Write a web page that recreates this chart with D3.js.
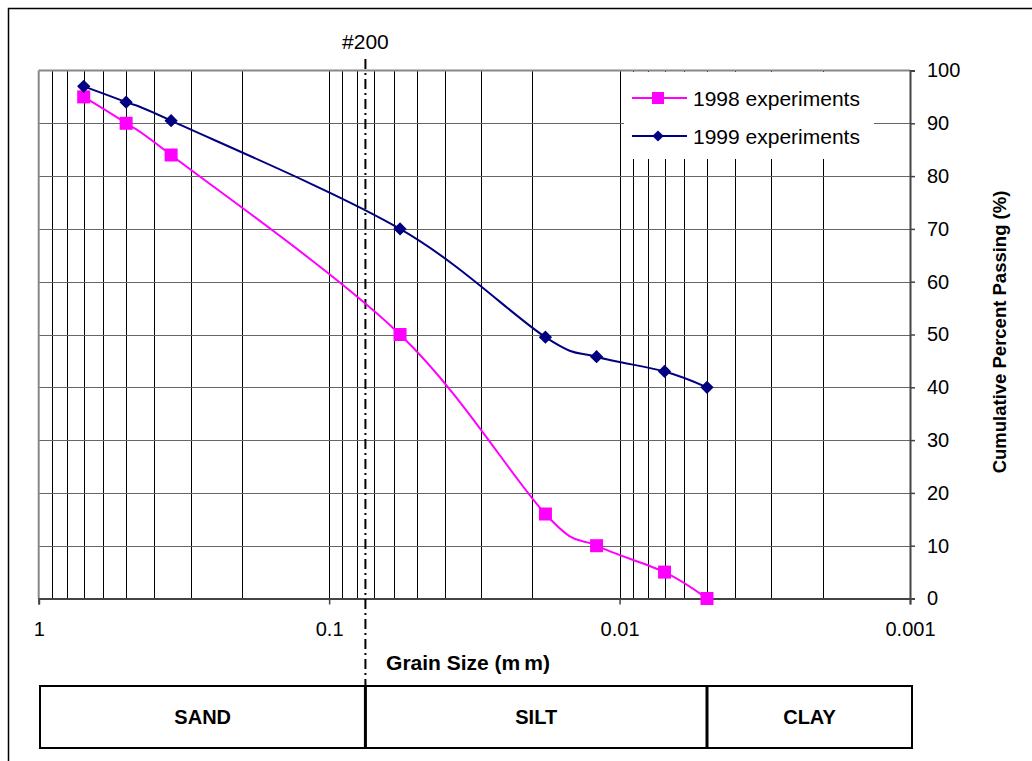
<!DOCTYPE html>
<html>
<head>
<meta charset="utf-8">
<script src="https://cdn.jsdelivr.net/npm/d3@7"></script>
<style>
  html, body { margin: 0; padding: 0; background: #fff; }
  svg { display: block; font-family: "Liberation Sans", Arial, sans-serif; }
</style>
</head>
<body>
<svg id="chart" width="1032" height="761"></svg>
<script>
// Grain size distribution (mm) and cumulative percent passing
const grainSize = [0.7, 0.5, 0.35, 0.057, 0.018, 0.012, 0.007, 0.005];
const passing1998 = [95, 90, 84, 50, 16, 10, 5, 0];
const passing1999 = [97, 94, 90.5, 70, 49.5, 45.8, 43, 40];
const seriesNames = ["1998 experiments", "1999 experiments"];
const xTickValues = [1, 0.1, 0.01, 0.001];
const yTickValues = [0, 10, 20, 30, 40, 50, 60, 70, 80, 90, 100];
// Soil classes along the grain size axis
const sieve200 = 0.075;
const classBounds = [1, 0.075, 0.005, 0.001];
const classNames = ["SAND", "SILT", "CLAY"];

const svg = d3.select("#chart");
const pLeft = 38.7, pRight = 910, pTop = 70.5, pBottom = 598.5;

const x = d3.scaleLog().domain([1, 0.001]).range([pLeft, pRight]);
const y = d3.scaleLinear().domain([0, 100]).range([pBottom, pTop]);

// outer frame
svg.append("rect").attr("x", 8.5).attr("y", 8.5).attr("width", 1100).attr("height", 800)
  .attr("fill", "none").attr("stroke", "#000").attr("stroke-width", 1.5);

// vertical grid at every log tick
svg.append("g").selectAll("line").data(x.ticks().filter(d => d < 1 && d > 0.001))
  .join("line")
  .attr("x1", d => Math.round(x(d)) + 0.5).attr("x2", d => Math.round(x(d)) + 0.5)
  .attr("y1", pTop).attr("y2", pBottom)
  .attr("stroke", "#000").attr("stroke-width", 1);

// horizontal grid
svg.append("g").selectAll("line").data(yTickValues.filter(d => d > 0 && d < 100))
  .join("line")
  .attr("x1", pLeft).attr("x2", pRight)
  .attr("y1", d => Math.round(y(d)) + 0.5).attr("y2", d => Math.round(y(d)) + 0.5)
  .attr("stroke", "#666").attr("stroke-width", 1);

// plot frame top and left
svg.append("line").attr("x1", pLeft).attr("x2", pRight).attr("y1", pTop).attr("y2", pTop)
  .attr("stroke", "#888").attr("stroke-width", 2);
svg.append("line").attr("x1", pLeft).attr("x2", pLeft).attr("y1", pTop).attr("y2", pBottom)
  .attr("stroke", "#888").attr("stroke-width", 2);

// legend backdrop
const lg = svg.append("g");
lg.append("rect").attr("x", 624).attr("y", 72).attr("width", 250).attr("height", 87).attr("fill", "#fff");

// x axis
const xAxis = svg.append("g").attr("transform", `translate(0,${pBottom})`)
  .call(d3.axisBottom(x).tickValues(xTickValues).tickFormat(d3.format("~g")).tickSize(6).tickPadding(17));
xAxis.select(".domain").attr("stroke", "#444").attr("stroke-width", 2);
xAxis.selectAll(".tick line").attr("stroke", "#444").attr("stroke-width", 1.5);
xAxis.selectAll("text").attr("font-size", 20).attr("fill", "#000")
  .attr("font-family", "Liberation Sans, Arial, sans-serif");

// y axis on the right
const yAxis = svg.append("g").attr("transform", `translate(${pRight},0)`)
  .call(d3.axisRight(y).tickValues(yTickValues).tickSize(5).tickPadding(12));
yAxis.select(".domain").attr("stroke", "#444").attr("stroke-width", 2);
yAxis.selectAll(".tick line").attr("stroke", "#444").attr("stroke-width", 1.5);
yAxis.selectAll("text").attr("font-size", 20).attr("fill", "#000")
  .attr("font-family", "Liberation Sans, Arial, sans-serif");

// #200 sieve line
svg.append("line").attr("x1", x(sieve200)).attr("x2", x(sieve200)).attr("y1", 59).attr("y2", 686)
  .attr("stroke", "#000").attr("stroke-width", 2).attr("stroke-dasharray", "10,4,2,4");
svg.append("text").attr("x", x(sieve200)).attr("y", 49).attr("text-anchor", "middle")
  .attr("font-size", 21).text("#200");

// series
const line = d3.line().x(d => x(d[0])).y(d => y(d[1])).curve(d3.curveCatmullRom.alpha(0));
const s1998 = grainSize.map((g, i) => [g, passing1998[i]]);
const s1999 = grainSize.map((g, i) => [g, passing1999[i]]);
const c1998 = "#ff00ff", c1999 = "#000080";

svg.append("path").datum(s1998).attr("d", line).attr("fill", "none")
  .attr("stroke", c1998).attr("stroke-width", 2);
svg.append("path").datum(s1999).attr("d", line).attr("fill", "none")
  .attr("stroke", c1999).attr("stroke-width", 2);

const sq = d3.symbol().type(d3.symbolSquare).size(169);
const dm = d3.symbol().type(d3.symbolDiamond2).size(112);
svg.append("g").selectAll("path").data(s1998).join("path")
  .attr("transform", d => `translate(${x(d[0])},${y(d[1])})`)
  .attr("d", sq).attr("fill", c1998);
svg.append("g").selectAll("path").data(s1999).join("path")
  .attr("transform", d => `translate(${x(d[0])},${y(d[1])})`)
  .attr("d", dm).attr("fill", c1999);

// legend entries
const sqL = d3.symbol().type(d3.symbolSquare).size(144);
const dmL = d3.symbol().type(d3.symbolDiamond2).size(80);
[[seriesNames[0], c1998, sqL, 98], [seriesNames[1], c1999, dmL, 136]].forEach(([name, col, sym, ly]) => {
  lg.append("line").attr("x1", 632).attr("x2", 687).attr("y1", ly).attr("y2", ly)
    .attr("stroke", col).attr("stroke-width", 2);
  lg.append("path").attr("transform", `translate(658,${ly})`).attr("d", sym).attr("fill", col);
  lg.append("text").attr("x", 693).attr("y", ly).attr("dy", "0.36em")
    .attr("font-size", 21).text(name);
});

// axis titles
svg.append("text").attr("x", 468).attr("y", 670).attr("text-anchor", "middle")
  .attr("font-size", 21).attr("font-weight", "bold")
  .html('Grain Size (m<tspan dx="4">m</tspan>)');
svg.append("text").attr("transform", "translate(1006,332) rotate(-90)").attr("text-anchor", "middle")
  .attr("font-size", 18.5).attr("font-weight", "bold").text("Cumulative Percent Passing (%)");

// soil class table
const tTop = 686, tBot = 748;
const tLeft = 40, tRight = 912;
const bx = b => b === 1 ? tLeft : (b === 0.001 ? tRight : x(b));
const tg = svg.append("g");
tg.append("rect").attr("x", tLeft).attr("y", tTop).attr("width", tRight - tLeft).attr("height", tBot - tTop)
  .attr("fill", "none").attr("stroke", "#000").attr("stroke-width", 2);
classBounds.slice(1, -1).forEach(b => {
  tg.append("line").attr("x1", bx(b)).attr("x2", bx(b)).attr("y1", tTop).attr("y2", tBot)
    .attr("stroke", "#000").attr("stroke-width", 3);
});
classNames.forEach((n, i) => {
  const cx = (bx(classBounds[i]) + bx(classBounds[i + 1])) / 2;
  tg.append("text").attr("x", cx).attr("y", (tTop + tBot) / 2).attr("dy", "0.36em")
    .attr("text-anchor", "middle").attr("font-size", 20).attr("font-weight", "bold").text(n);
});
</script>
</body>
</html>
